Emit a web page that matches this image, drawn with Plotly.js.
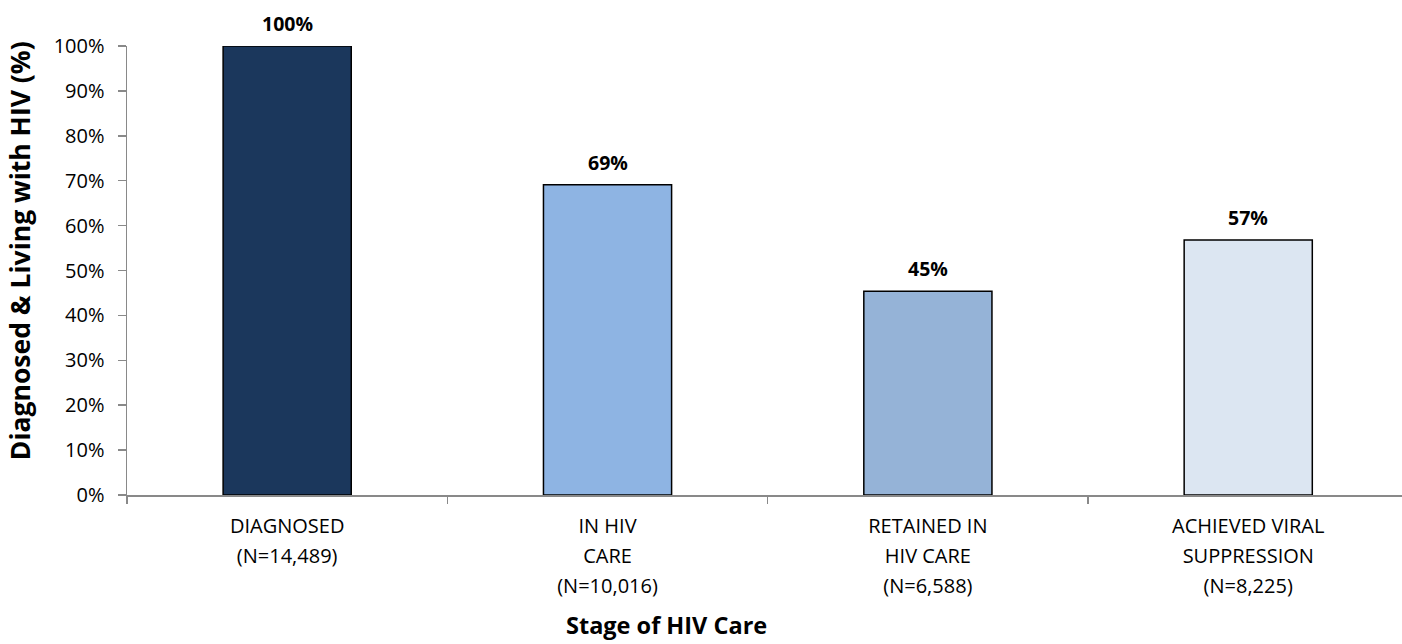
<!DOCTYPE html>
<html>
<head>
<meta charset="utf-8">
<script src="https://cdn.plot.ly/plotly-3.0.1.min.js"></script>
<style>
  html, body { margin: 0; padding: 0; background: #fff; }
  #chart { width: 1402px; height: 644px; }
</style>
</head>
<body>
<div id="chart"></div>
<script>
const categories = ["DIAGNOSED<br>(N=14,489)", "IN HIV<br>CARE<br>(N=10,016)", "RETAINED IN<br>HIV CARE<br>(N=6,588)", "ACHIEVED VIRAL<br>SUPPRESSION<br>(N=8,225)"];
const values = [100, 69.1, 45.4, 56.8];
const valueLabels = ["100%", "69%", "45%", "57%"];
const barColors = ["#1B375C", "#8EB4E3", "#95B3D7", "#DCE6F2"];
const yTitle = "Diagnosed & Living with HIV (%)";
const xTitle = "Stage of HIV Care";

const tickText = categories.map(c => c.split("<br>").map(l => '<span style="font-size:20px">' + l + '</span>').join("<br>"));

const trace = {
  type: "bar",
  x: categories,
  y: values,
  width: 0.4,
  marker: { color: barColors, line: { color: "#000000", width: 1.5 } },
  cliponaxis: false,
  hoverinfo: "none"
};

const labelAnnotations = categories.map((c, i) => ({
  text: "<b>" + valueLabels[i] + "</b>",
  x: c, y: values[i], xref: "x", yref: "y",
  xanchor: "center", yanchor: "bottom", yshift: 7,
  showarrow: false,
  font: { family: "Open Sans", size: 19.5, color: "#000" }
}));

const layout = {
  width: 1402, height: 644,
  margin: { l: 127, r: 0, t: 46, b: 149, pad: 0 },
  paper_bgcolor: "#fff", plot_bgcolor: "#fff",
  showlegend: false,
  font: { family: "Open Sans", color: "#000" },
  xaxis: {
    type: "category",
    range: [-0.5, 3.48],
    tickvals: categories,
    ticktext: tickText,
    tickfont: { family: "Open Sans", size: 23, color: "#000" },
    tickson: "boundaries",
    ticks: "outside", ticklen: 7, tickcolor: "#898989", tickwidth: 1.5,
    showline: true, linecolor: "#898989", linewidth: 1.5,
    showgrid: false, zeroline: false,
    ticklabelstandoff: 9
  },
  yaxis: {
    range: [0, 100],
    dtick: 10,
    tick0: 0,
    ticksuffix: "%",
    tickfont: { family: "Open Sans", size: 20, color: "#000" },
    ticks: "outside", ticklen: 8, tickcolor: "#898989", tickwidth: 1.5,
    showline: true, linecolor: "#898989", linewidth: 1.5,
    showgrid: false, zeroline: false,
    ticklabelstandoff: 9
  },
  annotations: labelAnnotations.concat([
    { text: "<b>" + yTitle + "</b>", xref: "paper", yref: "paper", x: -127/1275, y: 0.543, xanchor: "left", yanchor: "middle", textangle: -90, showarrow: false, font: { family: "Open Sans", size: 26.5, color: "#000" }, xshift: 0 },
    { text: "<b>" + xTitle + "</b>", xref: "paper", yref: "paper", x: (666-127)/1275, y: 0, xanchor: "center", yanchor: "bottom", yshift: -148, showarrow: false, font: { family: "Open Sans", size: 23.5, color: "#000" } }
  ])
};

Plotly.newPlot("chart", [trace], layout, { displayModeBar: false, staticPlot: true });
</script>
</body>
</html>
